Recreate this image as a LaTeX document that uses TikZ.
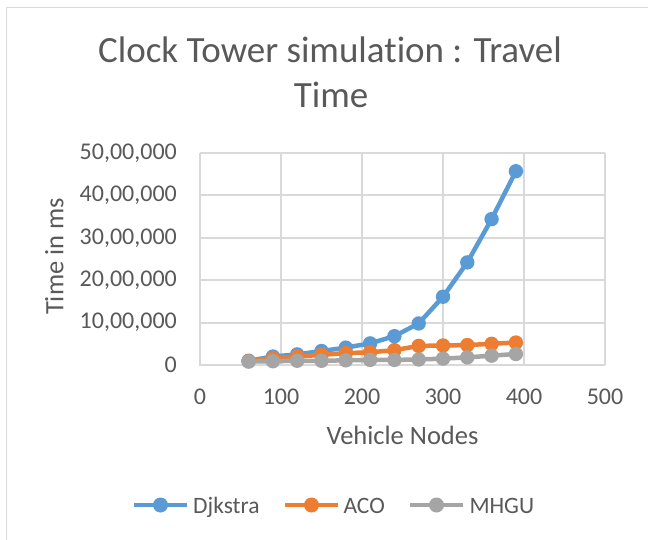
\documentclass[tikz,border=0pt]{standalone}
\usepackage{fontspec}
\setmainfont{Carlito}[Ligatures=NoCommon]
\definecolor{txt}{HTML}{595959}
\definecolor{gridc}{HTML}{D9D9D9}
\definecolor{sblue}{HTML}{5B9BD5}
\definecolor{sorange}{HTML}{ED7D31}
\definecolor{sgray}{HTML}{A5A5A5}
\tikzset{
  frame/.style={draw=gridc, line width=1.5pt},
  gridln/.style={draw=gridc, line width=1.8pt},
  lbl/.style={text=txt, inner sep=0pt, font=\fontsize{24}{29}\selectfont},
  ytick/.style={lbl, anchor=east},
  xtick/.style={lbl, anchor=center},
  axtitle/.style={text=txt, inner sep=0pt, font=\fontsize{26.5}{32}\selectfont},
  ttl/.style={text=txt, inner sep=0pt, anchor=base, font=\fontsize{37}{45}\selectfont},
  series/.style={draw=#1, line width=4.5pt, line join=round, line cap=round},
  marker/.style={fill=#1},
  legtext/.style={text=txt, inner sep=0pt, anchor=base west, font=\fontsize{23.5}{28}\selectfont}
}
\begin{document}
\begin{tikzpicture}[x=1pt, y=-1pt]
\useasboundingbox (0,0) rectangle (648,540);
\fill[white] (0,0) rectangle (648,540);
% chart frame (right and bottom edges fall outside the page)
\draw[frame] (6.5,540) -- (6.5,7.5) -- (648,7.5);

% title
\node[ttl] (title1) at (330,62.5) {Clock Tower simulation : Travel};
\node[ttl] (title2) at (331,108) {Time};

% grid
\foreach \k in {1,...,5} {
  \draw[gridln] ({200+81*\k},153) -- ({200+81*\k},365);
  \draw[gridln] (200,{365-42.4*\k}) -- (605,{365-42.4*\k});
}
\draw[gridln] (200,153) -- (200,365) -- (605,365);

% tick labels
\foreach \v/\t in {0/0, 1/{10,00,000}, 2/{20,00,000}, 3/{30,00,000}, 4/{40,00,000}, 5/{50,00,000}}
  \node[ytick] (yt\v) at (177,{365-42.4*\v}) {\t};
\foreach \v in {0,100,200,300,400,500}
  \node[xtick] (xt\v) at ({200+0.81*\v},396.5) {\v};

% axis titles
\node[axtitle, anchor=base] (xtitle) at (402.5,444.3) {Vehicle Nodes};
\node[axtitle, anchor=base, rotate=90] (ytitle) at (63.3,256.5) {Time in ms};

% data series
\begin{scope}[shift={(200pt,-365pt)}, x=0.81pt, y=42.4pt]
  \foreach \xv/\yv [count=\i] in {60/0.10, 90/0.20, 120/0.25, 150/0.33, 180/0.41, 210/0.51,
                                  240/0.68, 270/0.98, 300/1.61, 330/2.42, 360/3.44, 390/4.57}
    \coordinate (d\i) at (\xv,\yv);
  \foreach \xv/\yv [count=\i] in {60/0.09, 90/0.16, 120/0.20, 150/0.24, 180/0.28, 210/0.30,
                                  240/0.35, 270/0.45, 300/0.46, 330/0.47, 360/0.50, 390/0.53}
    \coordinate (a\i) at (\xv,\yv);
  \foreach \xv/\yv [count=\i] in {60/0.08, 90/0.09, 120/0.10, 150/0.10, 180/0.11, 210/0.12,
                                  240/0.12, 270/0.13, 300/0.15, 330/0.18, 360/0.22, 390/0.26}
    \coordinate (m\i) at (\xv,\yv);

  \draw[series=sblue] (d1) \foreach \i in {2,...,12} { -- (d\i) };
  \foreach \i in {1,...,12} \fill[marker=sblue] (d\i) circle[radius=7.2pt];

  \draw[series=sorange] (a1) \foreach \i in {2,...,12} { -- (a\i) };
  \foreach \i in {1,...,12} \fill[marker=sorange] (a\i) circle[radius=7.2pt];

  \draw[series=sgray] (m1) \foreach \i in {2,...,12} { -- (m\i) };
  \foreach \i in {1,...,12} \fill[marker=sgray] (m\i) circle[radius=7.2pt];
\end{scope}

% legend
\coordinate (l1a) at (134,505); \coordinate (l1b) at (187,505); \coordinate (l1m) at (160.5,505);
\coordinate (l2a) at (285,505); \coordinate (l2b) at (338,505); \coordinate (l2m) at (311.5,505);
\coordinate (l3a) at (410,505); \coordinate (l3b) at (463,505); \coordinate (l3m) at (436.5,505);
\draw[series=sblue, line cap=butt] (l1a) -- (l1b);
\fill[marker=sblue] (l1m) circle[radius=7.5pt];
\node[legtext] (leg1) at (193,513.3) {Djkstra};
\draw[series=sorange, line cap=butt] (l2a) -- (l2b);
\fill[marker=sorange] (l2m) circle[radius=7.5pt];
\node[legtext] (leg2) at (343.3,513.3) {ACO};
\draw[series=sgray, line cap=butt] (l3a) -- (l3b);
\fill[marker=sgray] (l3m) circle[radius=7.5pt];
\node[legtext] (leg3) at (469.3,513.3) {MHGU};
\end{tikzpicture}
\end{document}
